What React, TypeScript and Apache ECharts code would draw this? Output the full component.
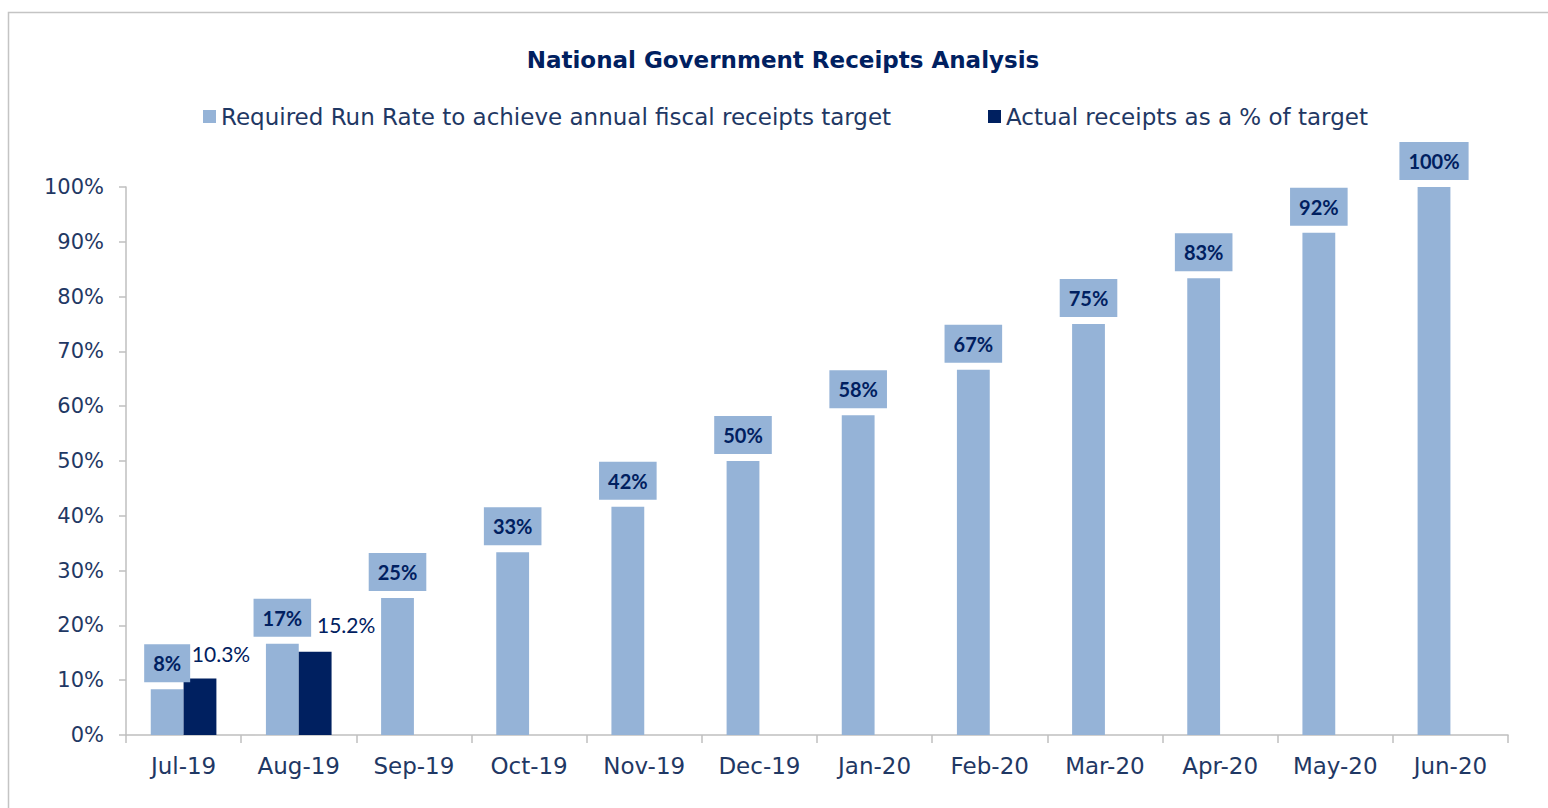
import React, { useEffect, useRef } from "react";
import * as echarts from "echarts";

const categories = ["Jul-19", "Aug-19", "Sep-19", "Oct-19", "Nov-19", "Dec-19", "Jan-20", "Feb-20", "Mar-20", "Apr-20", "May-20", "Jun-20"];
const requiredRunRate = [8.33, 16.67, 25, 33.33, 41.67, 50, 58.33, 66.67, 75, 83.33, 91.67, 100];
const actualReceipts: (number | null)[] = [10.3, 15.2, null, null, null, null, null, null, null, null, null, null];
const seriesNames = ["Required Run Rate to achieve annual fiscal receipts target", "Actual receipts as a % of target"];
const titleText = "National Government Receipts Analysis";

const LIGHT = "#95B3D7";
const DARK = "#002060";
const TEXT = "#1F3864";
const AXIS = "#BFBFBF";
const AXIS_FONT = "DejaVu Sans";
const LABEL_FONT = "Lato";

// per-label horizontal offsets of the actual-receipts labels (as placed in the source)
const actualLabelOffsets = [[21, -10], [31, -12]];

export default function App() {
  const ref = useRef<HTMLDivElement>(null);
  useEffect(() => {
    if (!ref.current) return;
    const chart = echarts.init(ref.current, undefined, { renderer: "svg" });
    const legendText = { color: TEXT, fontSize: 23, fontFamily: AXIS_FONT };
    chart.setOption({
      animation: false,
      backgroundColor: "#ffffff",
      title: {
        text: titleText,
        left: 778,
        textAlign: "center",
        top: 43,
        textStyle: { color: DARK, fontSize: 23, fontWeight: "bold", fontFamily: AXIS_FONT },
      },
      legend: [
        {
          top: 100,
          left: 198,
          itemWidth: 13,
          itemHeight: 13,
          icon: "rect",
          textStyle: legendText,
          data: [seriesNames[0]],
        },
        {
          top: 100,
          left: 983,
          itemWidth: 13,
          itemHeight: 13,
          icon: "rect",
          textStyle: legendText,
          data: [seriesNames[1]],
        },
      ],
      graphic: [
        {
          type: "rect",
          shape: { x: 8.5, y: 12.5, width: 1700, height: 900 },
          style: { fill: "none", stroke: "#C4C4C4", lineWidth: 1.5 },
          silent: true,
        },
      ],
      grid: { left: 126, right: 40, top: 187, bottom: 73 },
      xAxis: {
        type: "category",
        data: categories,
        axisLine: { lineStyle: { color: AXIS, width: 1.5 } },
        axisTick: { show: true, length: 8, lineStyle: { color: AXIS, width: 1.5 } },
        axisLabel: { color: TEXT, fontSize: 23, fontFamily: AXIS_FONT, margin: 19 },
      },
      yAxis: {
        type: "value",
        min: 0,
        max: 100,
        interval: 10,
        axisLine: { show: true, lineStyle: { color: AXIS, width: 1.5 } },
        axisTick: { show: true, length: 7, lineStyle: { color: AXIS, width: 1.5 } },
        splitLine: { show: false },
        axisLabel: { color: TEXT, fontSize: 21, fontFamily: AXIS_FONT, margin: 22, formatter: "{value}%" },
      },
      series: [
        {
          name: seriesNames[0],
          type: "bar",
          data: requiredRunRate,
          barGap: "0%",
          barCategoryGap: "43%",
          itemStyle: { color: LIGHT },
          label: {
            show: true,
            position: "top",
            distance: 7,
            formatter: (p: any) => Math.round(p.value) + "%",
            backgroundColor: LIGHT,
            padding: [8, 9],
            lineHeight: 22,
            color: DARK,
            fontWeight: "bold",
            fontSize: 20,
            fontFamily: LABEL_FONT,
          },
        },
        {
          name: seriesNames[1],
          type: "bar",
          data: actualReceipts.map((v, i) =>
            v == null ? null : { value: v, label: { offset: actualLabelOffsets[i] } }
          ),
          itemStyle: { color: DARK },
          label: {
            show: true,
            position: "top",
            distance: 5,
            formatter: (p: any) => (p.value == null ? "" : Number(p.value).toFixed(1) + "%"),
            color: DARK,
            fontSize: 21,
            fontFamily: LABEL_FONT,
          },
        },
      ],
    });
    return () => chart.dispose();
  }, []);
  return <div ref={ref} style={{ position: "fixed", left: 0, top: 0, width: 1548, height: 808 }} />;
}
